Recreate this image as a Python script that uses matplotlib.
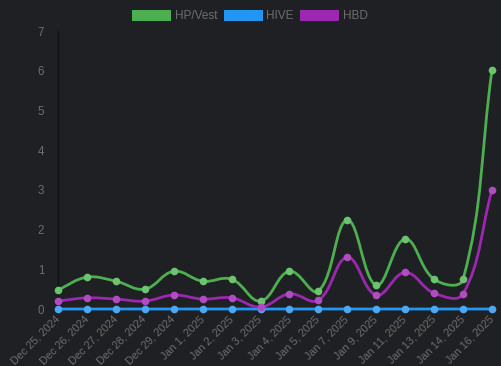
import numpy as np
import matplotlib
matplotlib.use("Agg")
import matplotlib.pyplot as plt
from matplotlib.patches import Patch
from matplotlib.path import Path
from matplotlib.patches import PathPatch

plt.rcParams["font.family"] = ["Liberation Sans", "DejaVu Sans"]

dates = ["Dec 25, 2024", "Dec 26, 2024", "Dec 27, 2024", "Dec 28, 2024", "Dec 29, 2024",
         "Jan 1, 2025", "Jan 2, 2025", "Jan 3, 2025", "Jan 4, 2025", "Jan 5, 2025",
         "Jan 7, 2025", "Jan 9, 2025", "Jan 11, 2025", "Jan 13, 2025", "Jan 14, 2025",
         "Jan 16, 2025"]
hp_vest = [0.48, 0.80, 0.70, 0.50, 0.95, 0.70, 0.75, 0.20, 0.95, 0.45,
           2.24, 0.60, 1.76, 0.75, 0.75, 6.02]
hive = [0.0] * 16
hbd = [0.20, 0.28, 0.25, 0.20, 0.35, 0.25, 0.28, 0.05, 0.38, 0.22,
       1.30, 0.35, 0.92, 0.40, 0.38, 3.00]

series = [("HP/Vest", hp_vest, "#4caf50", "#6cc46f"),
          ("HIVE", hive, "#2196f3", "#4aa8f5"),
          ("HBD", hbd, "#9c27b0", "#b04cc2")]

BG = "#1f2023"
TXT = "#6e6e6e"

fig = plt.figure(figsize=(5.02, 3.66), dpi=100, facecolor=BG)
ax = fig.add_axes([58 / 502, 1 - 309 / 366, (492 - 58) / 502, (309 - 31) / 366])
ax.set_facecolor(BG)

n = len(dates)
xs = np.arange(n)
# pixel scaling for spline computation
sx = (492 - 58) / (n - 1)
sy = (309 - 31) / 7.0


def spline_path(x, y, t=0.4):
    P = np.column_stack([np.asarray(x, float) * sx, np.asarray(y, float) * sy])
    m = len(P)
    cps_prev = np.zeros_like(P)
    cps_next = np.zeros_like(P)
    for i in range(m):
        prev = P[i - 1] if i > 0 else P[i]
        nxt = P[i + 1] if i < m - 1 else P[i]
        cur = P[i]
        d01 = np.hypot(*(cur - prev))
        d12 = np.hypot(*(nxt - cur))
        tot = d01 + d12
        s01 = d01 / tot if tot else 0
        s12 = d12 / tot if tot else 0
        cps_prev[i] = cur - t * s01 * (nxt - prev)
        cps_next[i] = cur + t * s12 * (nxt - prev)
    verts = [P[0]]
    codes = [Path.MOVETO]
    for i in range(m - 1):
        verts += [cps_next[i], cps_prev[i + 1], P[i + 1]]
        codes += [Path.CURVE4] * 3
    V = np.array(verts)
    V[:, 0] /= sx
    V[:, 1] /= sy
    return Path(V, codes)


for name, vals, col, mcol in series:
    path = spline_path(xs, vals)
    ax.add_patch(PathPatch(path, facecolor="none", edgecolor=col, lw=2.0,
                           zorder=3, clip_on=False))
    ax.plot(xs, vals, "o", color=mcol, ms=5.5, mec="none", zorder=4, clip_on=False)

ax.set_xlim(0, n - 1)
ax.set_ylim(0, 7)
ax.set_xticks(xs)
ax.set_xticklabels(dates, rotation=45, ha="right", va="center", rotation_mode="anchor")
ax.set_yticks(range(8))
ax.tick_params(axis="both", colors=TXT, labelsize=8.3, length=0)
ax.tick_params(axis="y", pad=10)
ax.tick_params(axis="x", pad=6, labelsize=7.8)
for s in ["top", "right", "bottom"]:
    ax.spines[s].set_visible(False)
ax.spines["left"].set_color("#111214")
ax.spines["left"].set_linewidth(1)

handles = [Patch(facecolor=c, edgecolor="none", label=nm) for nm, _, c, _ in series]
leg = fig.legend(handles=handles, loc="center", bbox_to_anchor=(250 / 502, 1 - 16 / 366),
                 ncol=3, frameon=False, fontsize=8.5, handlelength=3.3, handleheight=1.1,
                 handletextpad=0.3, columnspacing=0.55, labelcolor=TXT)

fig.savefig("out.png", dpi=100, facecolor=BG)
